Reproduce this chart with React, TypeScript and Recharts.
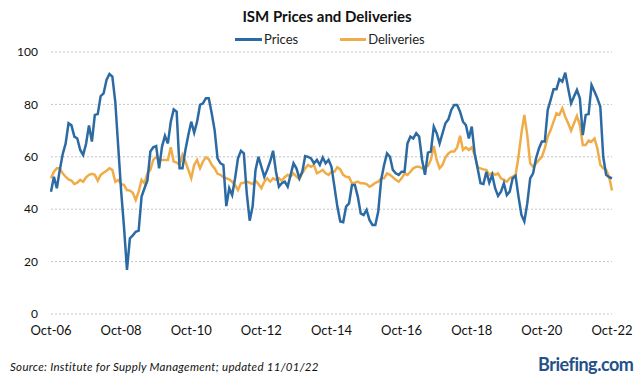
import React from "react";
import { LineChart, Line, XAxis, YAxis, CartesianGrid } from "recharts";

// ISM prices paid & supplier deliveries, monthly Oct-06 .. Oct-22
const prices = [
    46.7, 52.4, 48, 55, 61, 65, 72.8, 72, 67.7, 67, 62.6, 60.7,
    65, 72, 65.8, 76, 76.3, 83.2, 84.2, 89.3, 91.6, 90.6, 81, 64,
    47, 33, 16.8, 28.9, 30, 31.4, 31.8, 44.8, 48, 51, 62, 63.6,
    64.1, 55.6, 63.9, 68, 65.1, 73.4, 78.1, 77.2, 55.6, 55.6, 62.6, 68.3,
    73.4, 69.2, 73.4, 79.8, 80.4, 82.3, 82.3, 76.6, 70.2, 59.4, 57.5, 56.9,
    41.2, 48, 45.4, 51.8, 59.4, 62.3, 61.3, 46, 35.6, 41, 55, 60,
    56.2, 52.4, 55, 58.2, 62.3, 54.3, 48.6, 49.9, 50.5, 48.6, 53.1, 57.5,
    55.6, 51.8, 54.3, 60.3, 60, 59.4, 57.5, 58.8, 56.9, 59.7, 57.5, 58.8,
    56.2, 48.6, 41, 35.3, 35, 41, 42.2, 49.2, 49.2, 44.8, 38.4, 37.8,
    39.7, 35.9, 34, 34, 39.1, 51.2, 56.9, 61.3, 60, 55, 53.7, 53.1,
    54.3, 54.3, 65.1, 67.7, 67, 69, 67.7, 58.8, 53.1, 61.6, 62, 71.5,
    69, 65.1, 69, 72.8, 74.3, 77.9, 79.8, 79.8, 77.2, 73.4, 72.1, 67,
    71.5, 61.3, 55.6, 49.9, 49.6, 54.3, 50.1, 53.1, 48, 45.1, 46.7, 49.9,
    45.4, 46.7, 51.8, 52.7, 44.8, 37.8, 35.3, 42.2, 51.8, 53.7, 59.4, 63.2,
    65.8, 65.8, 77.9, 81.7, 85.8, 85.8, 89.6, 88.7, 92.1, 86.1, 80.4, 83,
    85.5, 82.3, 68.3, 76, 76.3, 87.4, 84.9, 82.3, 79.1, 60, 53.1, 52.2,
    51.8,
];

const deliveries = [
    51.8, 54.3, 55.6, 55.6, 53.7, 52.4, 51.4, 50.9, 49.6, 50.1, 51.2, 50.5,
    52.2, 53.1, 53.5, 53.1, 50.9, 53.1, 53.9, 54.7, 55.6, 55, 50.5, 51.2,
    49.6, 49.2, 47.3, 47.1, 46.3, 43.5, 46.7, 51.2, 49.9, 53.7, 55, 58.8,
    60, 58.8, 58.8, 58.8, 58.8, 63.6, 58.2, 57.8, 56.9, 60.7, 58.2, 55,
    51.8, 56.9, 58.8, 55.6, 58.2, 59.8, 59.1, 56.9, 55.6, 53.5, 53.1, 52.2,
    51.8, 51.4, 50.5, 49.2, 47.3, 49.9, 50.1, 50.5, 50.1, 49.6, 50.9, 49.6,
    48, 50.5, 51.8, 50.5, 51.8, 51.2, 51.8, 50.9, 52.2, 53.1, 52.4, 53.7,
    52.4, 51.4, 53.7, 55.6, 56.9, 56.2, 56.9, 53.7, 54.3, 55, 53.7, 53.1,
    54.3, 54.3, 56, 55.2, 53.1, 52.4, 52.2, 49.9, 50.1, 50.5, 49.9, 49.9,
    49.6, 48.6, 49.2, 50.1, 50.5, 51.8, 51.8, 53.7, 53.1, 52.2, 51.2, 50.5,
    51.8, 53.7, 53.1, 54.3, 55.6, 56.2, 56.2, 55.6, 56.2, 56.5, 58.8, 64.1,
    58.8, 55.6, 56.9, 59.8, 61.3, 62, 62, 63.6, 68, 62.6, 63.6, 62.6,
    63.6, 60.7, 56, 55.6, 55.2, 55, 53.1, 53.9, 53.1, 53.7, 51.8, 51.2,
    50.5, 51.8, 52.4, 53.1, 60, 69, 76, 68.3, 57.5, 56.2, 57.5, 58.8,
    60, 63.2, 67.7, 70.2, 73.4, 76.6, 76, 78.5, 75.3, 72.8, 70, 72.8,
    75.6, 72.1, 64.5, 64.5, 66.2, 65.8, 67, 63.2, 56.9, 55.6, 55, 52.4,
    47.1,
];

const xTicks = ["Oct-06", "Oct-08", "Oct-10", "Oct-12", "Oct-14", "Oct-16", "Oct-18", "Oct-20", "Oct-22"];
const yTicks = [0, 20, 40, 60, 80, 100];

const monthNames = ["Jan", "Feb", "Mar", "Apr", "May", "Jun", "Jul", "Aug", "Sep", "Oct", "Nov", "Dec"];

// month labels starting Oct-06
const months = prices.map((_, i) => {
    const mi = (9 + i) % 12;
    const yr = 6 + Math.floor((9 + i) / 12);
    return monthNames[mi] + "-" + String(yr).padStart(2, "0");
});

const data = months.map((m, i) => ({ month: m, prices: prices[i], deliveries: deliveries[i] }));

const BLUE = "#2c6aa3";
const ORANGE = "#f0ac48";
const FONT = "Lato, 'Open Sans', sans-serif";

export default function App() {
    return (
        <div style={{ position: "absolute", left: 0, top: 0, width: 640, height: 388, background: "#fff", fontFamily: FONT }}>
            <div style={{ position: "absolute", top: 7, left: 0, width: 654, textAlign: "center", fontWeight: 700, fontSize: 15, color: "#111" }}>
                ISM Prices and Deliveries
            </div>
            <div style={{ position: "absolute", top: 31, left: 235, display: "flex", alignItems: "center", fontSize: 13, color: "#222" }}>
                <span style={{ display: "inline-block", width: 27, height: 3, background: BLUE, marginRight: 2 }} />
                <span>Prices</span>
                <span style={{ display: "inline-block", width: 26, height: 3, background: ORANGE, marginLeft: 42, marginRight: 2 }} />
                <span>Deliveries</span>
            </div>
            <LineChart width={640} height={388} data={data} margin={{ top: 52, right: 28, bottom: 44, left: 0 }}>
                <CartesianGrid vertical={false} stroke="#c4c4c4" strokeDasharray="2 2" />
                <XAxis
                    dataKey="month"
                    ticks={xTicks}
                    interval={0}
                    axisLine={false}
                    tickLine={false}
                    tickSize={0}
                    tickMargin={12}
                    height={30}
                    tick={{ fill: "#111", fontSize: 13, fontFamily: FONT }}
                />
                <YAxis
                    domain={[0, 100]}
                    ticks={yTicks}
                    width={51}
                    axisLine={false}
                    tickLine={false}
                    tickSize={0}
                    tickMargin={13}
                    tick={{ fill: "#111", fontSize: 12, fontFamily: FONT }}
                />
                <Line type="linear" dataKey="deliveries" stroke={ORANGE} strokeWidth={2.5} dot={false} isAnimationActive={false} />
                <Line type="linear" dataKey="prices" stroke={BLUE} strokeWidth={2.5} dot={false} isAnimationActive={false} />
            </LineChart>
            <div style={{ position: "absolute", top: 360, left: 10, fontStyle: "italic", fontSize: 11.5, letterSpacing: 0.3, color: "#111" }}>
                Source: Institute for Supply Management; updated 11/01/22
            </div>
            <div style={{ position: "absolute", top: 353, left: 538, fontWeight: 700, fontSize: 18, color: "#24508a", letterSpacing: -0.5 }}>
                Briefing.com
            </div>
        </div>
    );
}
